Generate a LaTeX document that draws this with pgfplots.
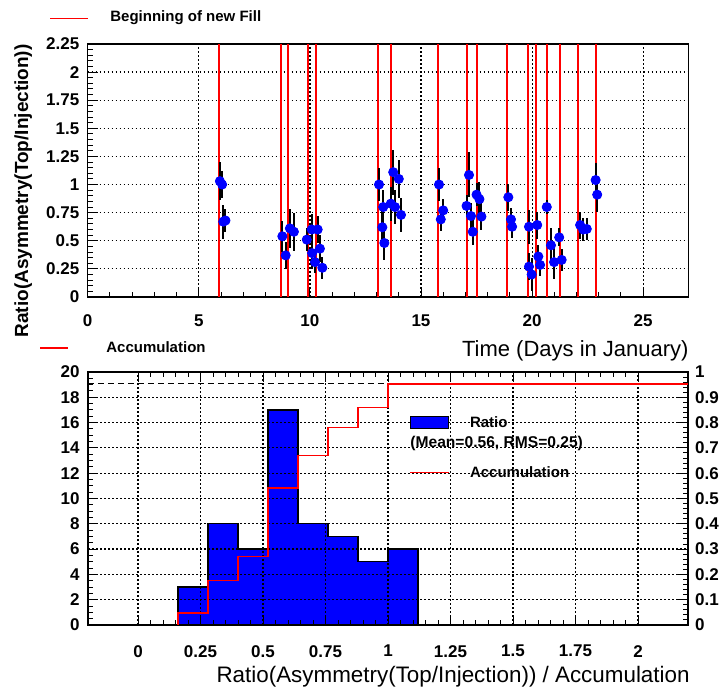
\documentclass[border=0pt]{standalone}
\usepackage{pgfplots}
\usepackage{pgfplotstable}
\pgfplotsset{compat=1.18}
\usepackage{fontspec}
\setmainfont{Liberation Sans}

% ratio per run: time (days in January), ratio, error
\pgfplotstableread{
x      y      e
5.95   1.03   0.17
6.05   1.00   0.12
6.10   0.67   0.15
6.20   0.68   0.10
8.76   0.54   0.14
8.91   0.37   0.12
9.10   0.61   0.17
9.28   0.58   0.17
9.86   0.51   0.10
10.08  0.60   0.14
10.35  0.60   0.12
10.10  0.39   0.14
10.45  0.43   0.12
10.23  0.31   0.10
10.56  0.26   0.10
13.11  1.00   0.15
13.30  0.80   0.15
13.26  0.62   0.15
13.35  0.48   0.15
13.75  1.11   0.20
14.00  1.05   0.17
13.64  0.83   0.15
13.83  0.80   0.15
14.10  0.73   0.15
15.81  1.00   0.15
16.00  0.77   0.10
15.89  0.69   0.10
17.16  1.085  0.20
17.05  0.81   0.10
17.25  0.72   0.12
17.33  0.58   0.12
17.50  0.91   0.10
17.63  0.87   0.15
17.72  0.715  0.12
18.93  0.887  0.12
19.05  0.69   0.10
19.10  0.625  0.10
19.86  0.625  0.15
19.86  0.27   0.12
19.98  0.20   0.15
20.23  0.64   0.12
20.28  0.36   0.10
20.36  0.285  0.10
20.66  0.80   0.06
20.85  0.46   0.15
20.99  0.31   0.15
21.22  0.53   0.08
21.33  0.33   0.10
22.16  0.64   0.12
22.30  0.60   0.10
22.46  0.605  0.10
22.86  1.04   0.15
22.93  0.91   0.15
}\ratiodata

\tikzset{hgrid/.style={draw=black, line width=0.6pt, dash pattern=on 0.8pt off 1.2pt}}

\begin{document}
\begin{tikzpicture}
\pgfplotsset{
  rootframe/.style={
    scale only axis,
    axis line style={line width=0.6pt},
    tick align=inside,
    tick style={black, line width=0.5pt},
    major tick length=5pt, minor tick length=2.5pt,
    xmajorgrids=true, ymajorgrids=false,
    every axis x grid/.style={draw=black, line width=0.6pt,
      dash pattern=on 0.8pt off 1.2pt},
    tick label style={font=\bfseries\fontsize{8.5}{10}\selectfont},
    /pgf/number format/assume math mode=true,
  }
}

% ---------- upper panel: ratio versus time ----------
\begin{axis}[rootframe,
  at={(43.85pt,195.5pt)}, anchor=south west,
  width=300.3pt, height=126.5pt,
  xmin=0, xmax=27.03, ymin=0, ymax=2.25,
  xtick={0,5,10,15,20,25}, minor x tick num=4,
  ytick={0,0.25,0.5,0.75,1,1.25,1.5,1.75,2,2.25},
  yticklabels={0,0.25,0.5,0.75,1,1.25,1.5,1.75,2,2.25},
  minor y tick num=4,
  xtick pos=lower, ytick pos=left,
  xticklabel style={yshift=-5.5pt},
  yticklabel style={xshift=-0.7pt},
]
% horizontal grid
\pgfplotsinvokeforeach{0.25,0.5,0.75,1,1.25,1.5,1.75,2}{
  \draw[hgrid] (axis cs:0,#1) -- (axis cs:27.03,#1);
}
% beginning of each new fill
\addplot[red, line width=1pt, ycomb, mark=none] coordinates {
  (5.92,2.25) (8.70,2.25) (9.03,2.25) (9.93,2.25) (10.26,2.25)
  (13.05,2.25) (13.65,2.25) (15.78,2.25) (17.07,2.25) (17.51,2.25)
  (18.87,2.25) (19.82,2.25) (20.16,2.25) (20.67,2.25) (21.24,2.25)
  (22.08,2.25) (22.88,2.25)};
\addplot[only marks, mark=none,
  error bars/.cd, y dir=both, y explicit, error mark=none,
  error bar style={black, line width=1pt}]
  table[x=x, y=y, y error=e] {\ratiodata};
\addplot[only marks, mark=*, mark size=2.3pt,
  mark options={fill=blue, draw=blue}]
  table[x=x, y=y] {\ratiodata};
\end{axis}

% ---------- lower panel: distribution of the ratio ----------
\begin{axis}[rootframe,
  at={(44pt,31.5pt)}, anchor=south west,
  width=300pt, height=126.5pt,
  xmin=-0.2, xmax=2.2, ymin=0, ymax=20,
  axis on top,
  xtick={0,0.25,0.5,0.75,1,1.25,1.5,1.75,2},
  xticklabels={0,0.25,0.5,0.75,1,1.25,1.5,1.75,2},
  minor x tick num=4,
  ytick={0,2,4,6,8,10,12,14,16,18,20},
  minor y tick num=3,
  xtick pos=both, xticklabel pos=lower, ytick pos=left,
  xticklabel style={yshift=-6.6pt},
  yticklabel style={xshift=-0.7pt},
]
\addplot[const plot, fill=blue, draw=black, line width=0.6pt] coordinates {
  (0.16,0) (0.16,3) (0.28,8) (0.40,6) (0.52,17) (0.64,8)
  (0.76,7) (0.88,5) (1.00,6) (1.12,6) (1.12,0)} \closedcycle;
% horizontal grid, drawn over the histogram
\pgfplotsinvokeforeach{2,4,6,8,10,12,14,16,18}{
  \draw[hgrid] (axis cs:-0.2,#1) -- (axis cs:2.2,#1);
}
\end{axis}

% cumulative fraction on the right-hand scale
\begin{axis}[rootframe,
  at={(44pt,31.5pt)}, anchor=south west,
  width=300pt, height=126.5pt,
  xmin=-0.2, xmax=2.2, ymin=0, ymax=1,
  hide x axis, xmajorgrids=false,
  ytick={0,0.1,0.2,0.3,0.4,0.5,0.6,0.7,0.8,0.9,1},
  yticklabels={0,0.1,0.2,0.3,0.4,0.5,0.6,0.7,0.8,0.9,1},
  minor y tick num=4,
  ytick pos=right, yticklabel pos=right,
]
\addplot[black, line width=0.6pt, dash pattern=on 3pt off 2pt, mark=none]
  coordinates {(-0.2,0.953) (2.2,0.953)};
\addplot[red, line width=0.75pt, const plot, mark=none] coordinates {
  (0.16,0) (0.16,0.048) (0.28,0.175) (0.40,0.271) (0.52,0.541)
  (0.64,0.669) (0.76,0.780) (0.88,0.860) (1.00,0.953) (2.2,0.953)};
\end{axis}

% titles
\node[rotate=90, anchor=base east, inner sep=0pt,
  font=\bfseries\fontsize{9.5}{11}\selectfont] at (14pt,322pt)
  {Ratio(Asymmetry(Top/Injection))};
\node[anchor=east, inner sep=0pt, font=\fontsize{11}{13}\selectfont]
  at (344.5pt,168.5pt) {Time (Days in January)};
\node[anchor=base east, inner sep=0pt, font=\fontsize{11.2}{13}\selectfont]
  at (345pt,2.5pt) {Ratio(Asymmetry(Top/Injection)) / Accumulation};

% legend of the fill markers
\draw[red, line width=0.6pt] (25pt,334.8pt) -- (44pt,334.8pt);
\node[anchor=west, inner sep=0pt, font=\bfseries\fontsize{7.5}{9}\selectfont]
  at (55pt,335pt) {Beginning of new Fill};
\draw[red, line width=0.6pt] (20pt,170pt) -- (34pt,170pt);
\node[anchor=west, inner sep=0pt, font=\bfseries\fontsize{7.5}{9}\selectfont]
  at (53pt,170.5pt) {Accumulation};

% legend of the lower panel
\filldraw[fill=blue, draw=black, line width=0.5pt]
  (205.3pt,129.5pt) rectangle (224.2pt,135.7pt);
\node[anchor=west, inner sep=0pt, font=\bfseries\fontsize{7.5}{9}\selectfont]
  at (234.8pt,133pt) {Ratio};
\node[anchor=west, inner sep=0pt, font=\bfseries\fontsize{7.8}{9}\selectfont]
  at (205pt,122.5pt) {(Mean=0.56, RMS=0.25)};
\draw[red, line width=0.6pt] (205pt,107.7pt) -- (224.5pt,107.7pt);
\node[anchor=west, inner sep=0pt, font=\bfseries\fontsize{7.5}{9}\selectfont]
  at (234.8pt,108pt) {Accumulation};

\pgfresetboundingbox
\useasboundingbox (0pt,0pt) rectangle (361.5pt,344pt);
\end{tikzpicture}
\end{document}
